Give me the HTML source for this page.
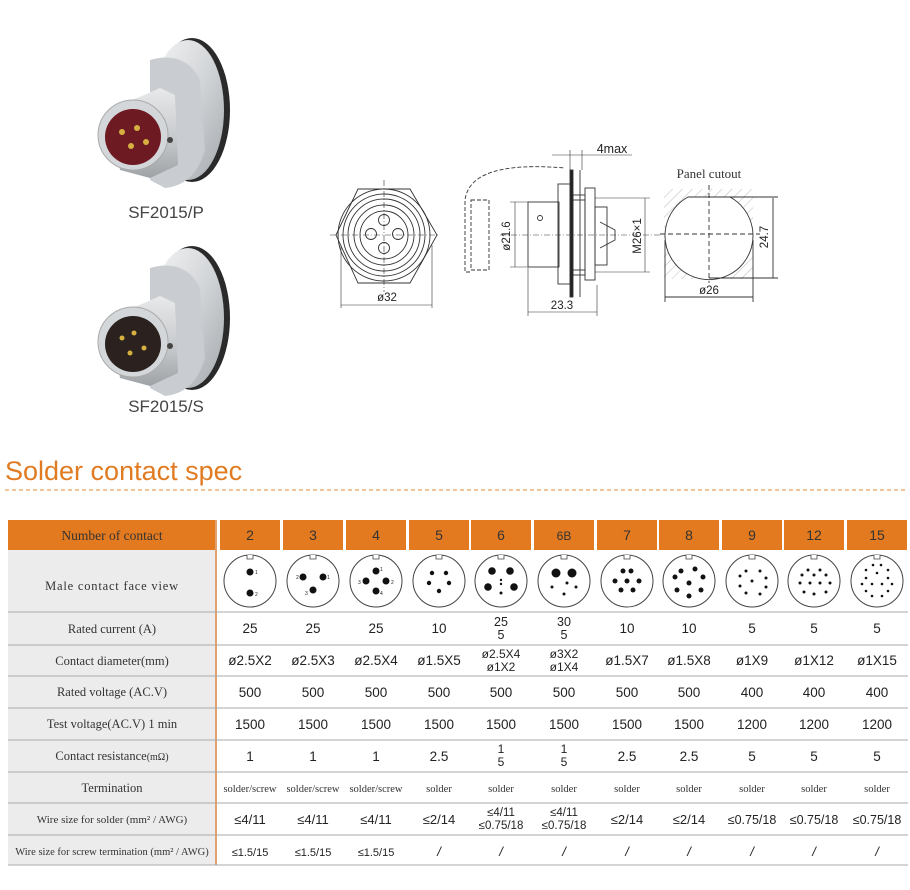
<!DOCTYPE html>
<html><head><meta charset="utf-8"><style>
html,body{margin:0;padding:0;background:#fff;}
svg{display:block;}
.l{font-family:"Liberation Serif",serif;font-size:12.5px;fill:#333;text-anchor:middle;}
.v{font-family:"Liberation Sans",sans-serif;font-size:13.5px;fill:#222;text-anchor:middle;}
.h{font-family:"Liberation Sans",sans-serif;font-size:14px;fill:#333;text-anchor:middle;}
.s{font-family:"Liberation Serif",serif;font-size:10.5px;fill:#333;text-anchor:middle;}
.d{font-family:"Liberation Sans",sans-serif;font-size:11.5px;fill:#222;text-anchor:middle;}
.dr{stroke:#333;stroke-width:0.9;fill:none;}
.pl{font-family:"Liberation Sans",sans-serif;font-size:5px;fill:#222;}
</style></head><body>
<svg width="910" height="890" viewBox="0 0 910 890" xmlns="http://www.w3.org/2000/svg">
<defs>
<linearGradient id="sil" x1="0" y1="0" x2="1" y2="1"><stop offset="0" stop-color="#f4f4f4"/><stop offset="0.5" stop-color="#d2d5d8"/><stop offset="1" stop-color="#a4a8ac"/></linearGradient>
<linearGradient id="bod" x1="0" y1="0" x2="0" y2="1"><stop offset="0" stop-color="#e8e9ea"/><stop offset="0.6" stop-color="#c4c7ca"/><stop offset="1" stop-color="#9ea2a6"/></linearGradient>
<pattern id="hat" width="7" height="7" patternUnits="userSpaceOnUse" patternTransform="rotate(45)"><line x1="0" y1="0" x2="0" y2="7" stroke="#bbb" stroke-width="1"/></pattern>
</defs>

<!-- products -->
<g>
<ellipse cx="192" cy="110" rx="38" ry="72" fill="#2a2a2a"/>
<ellipse cx="188" cy="110" rx="36" ry="70" fill="url(#sil)"/>
<path d="M150 60 Q185 50 200 80 L205 150 Q195 185 165 188 L150 180 Z" fill="#c9ccd0"/>
<path d="M110 110 L160 88 L175 95 L178 165 L150 178 L120 170 Z" fill="url(#bod)"/>
<circle cx="133" cy="135" r="35" fill="#d4d7da" stroke="#aaa"/>
<circle cx="133" cy="137" r="28" fill="#6e1a22"/>
<circle cx="122" cy="132" r="3" fill="#d8b040"/><circle cx="137" cy="128" r="3" fill="#d8b040"/><circle cx="146" cy="142" r="3" fill="#d8b040"/><circle cx="131" cy="146" r="3" fill="#d8b040"/>
<circle cx="170" cy="140" r="3" fill="#444"/>
<text x="166" y="218" style="font-family:'Liberation Sans',sans-serif;font-size:17px;fill:#444;text-anchor:middle">SF2015/P</text>

<ellipse cx="192" cy="318" rx="38" ry="72" fill="#2a2a2a"/>
<ellipse cx="188" cy="318" rx="36" ry="70" fill="url(#sil)"/>
<path d="M150 268 Q185 258 200 288 L205 358 Q195 393 165 396 L150 388 Z" fill="#c9ccd0"/>
<path d="M110 318 L160 296 L175 303 L178 373 L150 386 L120 378 Z" fill="url(#bod)"/>
<circle cx="133" cy="342" r="35" fill="#d4d7da" stroke="#aaa"/>
<circle cx="133" cy="344" r="28" fill="#2b2220"/>
<circle cx="122" cy="338" r="2.5" fill="#d8b040"/><circle cx="134" cy="333" r="2.5" fill="#d8b040"/><circle cx="144" cy="348" r="2.5" fill="#d8b040"/><circle cx="130" cy="353" r="2.5" fill="#d8b040"/>
<circle cx="170" cy="346" r="3" fill="#444"/>
<text x="166" y="412" style="font-family:'Liberation Sans',sans-serif;font-size:17px;fill:#444;text-anchor:middle">SF2015/S</text>
</g>

<!-- front view -->
<g class="dr">
<polygon points="336,235 358,189 410,189 437,235 410,283 358,283"/>
<circle cx="384" cy="235" r="46"/><circle cx="384" cy="235" r="41"/><circle cx="384" cy="235" r="36"/><circle cx="384" cy="235" r="30"/><circle cx="384" cy="235" r="24"/>
<circle cx="384" cy="220" r="5.5"/><circle cx="371" cy="234" r="5.5"/><circle cx="398" cy="234" r="5.5"/><circle cx="384" cy="248" r="5.5"/>
<line x1="330" y1="235" x2="440" y2="235" stroke-dasharray="6,2,1,2" stroke-width="0.6"/>
<line x1="384" y1="180" x2="384" y2="292" stroke-dasharray="6,2,1,2" stroke-width="0.6"/>
<line x1="341" y1="245" x2="341" y2="308" stroke-width="0.6"/><line x1="432" y1="245" x2="432" y2="308" stroke-width="0.6"/>
<line x1="341" y1="305" x2="432" y2="305" stroke-width="0.6"/>
</g>
<text x="387" y="301" class="d">ø32</text>

<!-- side view -->
<g class="dr">
<path d="M470 272 L465 272 L465 200 Q470 160 565 168" stroke-dasharray="4,2"/>
<rect x="471" y="200" width="18" height="70" stroke-dasharray="4,2"/>
<rect x="528" y="202" width="31" height="65"/>
<circle cx="540" cy="218" r="2.5"/>
<rect x="558" y="184" width="12" height="100"/>
<rect x="570" y="170" width="3" height="127" fill="#222"/>
<rect x="573" y="195" width="12" height="80"/>
<line x1="573" y1="200" x2="585" y2="200"/><line x1="573" y1="270" x2="585" y2="270"/>
<rect x="585" y="188" width="10" height="92"/>
<rect x="595" y="207" width="12" height="58"/>
<path d="M600 222 L615 230 L615 240 L600 248"/>
<line x1="580" y1="170" x2="580" y2="297"/>
<line x1="515" y1="202" x2="515" y2="267" stroke-width="0.6"/>
<line x1="510" y1="202" x2="528" y2="202" stroke-width="0.6"/><line x1="510" y1="267" x2="528" y2="267" stroke-width="0.6"/>
<line x1="645" y1="198" x2="645" y2="272" stroke-width="0.6"/>
<line x1="595" y1="198" x2="650" y2="198" stroke-width="0.6"/><line x1="595" y1="272" x2="650" y2="272" stroke-width="0.6"/>
<line x1="528" y1="268" x2="528" y2="316" stroke-width="0.6"/><line x1="597" y1="285" x2="597" y2="316" stroke-width="0.6"/>
<line x1="528" y1="312" x2="597" y2="312" stroke-width="0.6"/>
<line x1="570" y1="150" x2="570" y2="170" stroke-width="0.6"/><line x1="582" y1="150" x2="582" y2="170" stroke-width="0.6"/>
<line x1="552" y1="155" x2="632" y2="155" stroke-width="0.6"/>
<line x1="500" y1="235" x2="660" y2="235" stroke-dasharray="6,2,1,2" stroke-width="0.6"/>
</g>
<text x="612" y="153" class="d" style="font-size:12.5px">4max</text>
<text x="562" y="309" class="d">23.3</text>
<text transform="translate(510,236) rotate(-90)" class="d">ø21.6</text>
<text transform="translate(641,236) rotate(-90)" class="d">M26×1</text>

<!-- panel cutout -->
<text x="709" y="178" style="font-family:'Liberation Serif',serif;font-size:13px;fill:#333;text-anchor:middle">Panel cutout</text>
<rect x="664" y="189" width="89" height="90" fill="url(#hat)"/>
<path d="M688 197 L730 197 A44 44 0 1 1 688 197 Z" fill="#fff" stroke="#333" stroke-width="0.9"/>
<g class="dr" stroke-width="0.6">
<line x1="660" y1="234" x2="760" y2="234" stroke-dasharray="5,3"/>
<line x1="709" y1="185" x2="709" y2="283" stroke-dasharray="5,3"/>
<line x1="773" y1="198" x2="773" y2="278"/><line x1="730" y1="197" x2="778" y2="197"/><line x1="709" y1="278" x2="778" y2="278"/>
<line x1="665" y1="240" x2="665" y2="302"/><line x1="753" y1="240" x2="753" y2="302"/><line x1="665" y1="297" x2="753" y2="297"/>
</g>
<text transform="translate(768,237) rotate(-90)" class="d">24.7</text>
<text x="709" y="294" class="d">ø26</text>

<!-- title -->
<text x="5" y="480" style="font-family:'Liberation Sans',sans-serif;font-size:27px;fill:#e07b22">Solder contact spec</text>
<line x1="5" y1="490" x2="907" y2="490" stroke="#e58a35" stroke-width="1" stroke-dasharray="4,3"/>

<!-- table -->
<rect x="8" y="520" width="208" height="30" fill="#e47a1f"/>
<rect x="8" y="550" width="208" height="315" fill="#ececec"/>
<line x1="216" y1="520" x2="216" y2="865" stroke="#e0a070" stroke-width="2"/>
<g fill="#e47a1f">
<rect x="220" y="520" width="60" height="30"/><rect x="283" y="520" width="60" height="30"/><rect x="346" y="520" width="60" height="30"/><rect x="409" y="520" width="60" height="30"/><rect x="471" y="520" width="60" height="30"/><rect x="534" y="520" width="60" height="30"/><rect x="597" y="520" width="60" height="30"/><rect x="659" y="520" width="60" height="30"/><rect x="722" y="520" width="60" height="30"/><rect x="784" y="520" width="60" height="30"/><rect x="847" y="520" width="60" height="30"/>
</g>
<g stroke="#aaa" stroke-width="1">
<line x1="8" y1="612" x2="908" y2="612"/><line x1="8" y1="645" x2="908" y2="645"/><line x1="8" y1="676" x2="908" y2="676"/><line x1="8" y1="708" x2="908" y2="708"/><line x1="8" y1="740" x2="908" y2="740"/><line x1="8" y1="772" x2="908" y2="772"/><line x1="8" y1="803" x2="908" y2="803"/><line x1="8" y1="835" x2="908" y2="835"/><line x1="8" y1="865" x2="908" y2="865"/>
</g>
<text x="112" y="540" class="l" style="font-size:13.5px">Number of contact</text>
<g class="h">
<text x="250" y="540">2</text><text x="313" y="540">3</text><text x="376" y="540">4</text><text x="439" y="540">5</text><text x="501" y="540">6</text><text x="564" y="540" style="font-size:12px">6B</text><text x="627" y="540">7</text><text x="689" y="540">8</text><text x="752" y="540">9</text><text x="814" y="540">12</text><text x="877" y="540">15</text>
</g>
<text x="112" y="590" class="l" style="letter-spacing:0.8px">Male contact face view</text>
<text x="112" y="633" class="l">Rated current (A)</text>
<text x="112" y="665" class="l">Contact diameter(mm)</text>
<text x="112" y="696" class="l">Rated voltage (AC.V)</text>
<text x="112" y="728" class="l">Test voltage(AC.V) 1 min</text>
<text x="112" y="760" class="l">Contact resistance<tspan style="font-size:10px">(mΩ)</tspan></text>
<text x="112" y="792" class="l">Termination</text>
<text x="112" y="823" class="l" style="font-size:11px">Wire size for solder (mm² / AWG)</text>
<text x="112" y="855" class="l" style="font-size:10.5px">Wire size for screw termination (mm² / AWG)</text>

<!-- face views -->
<g fill="#fff" stroke="#444" stroke-width="1">
<circle cx="250" cy="581" r="26"/><circle cx="313" cy="581" r="26"/><circle cx="376" cy="581" r="26"/><circle cx="439" cy="581" r="26"/><circle cx="501" cy="581" r="26"/><circle cx="564" cy="581" r="26"/><circle cx="627" cy="581" r="26"/><circle cx="689" cy="581" r="26"/><circle cx="752" cy="581" r="26"/><circle cx="814" cy="581" r="26"/><circle cx="877" cy="581" r="26"/>
</g>
<g fill="#fff" stroke="#444" stroke-width="0.8">
<path d="M247 555 v4 h6 v-4"/><path d="M310 555 v4 h6 v-4"/><path d="M373 555 v4 h6 v-4"/><path d="M436 555 v4 h6 v-4"/><path d="M498 555 v4 h6 v-4"/><path d="M561 555 v4 h6 v-4"/><path d="M624 555 v4 h6 v-4"/><path d="M686 555 v4 h6 v-4"/><path d="M749 555 v4 h6 v-4"/><path d="M811 555 v4 h6 v-4"/><path d="M874 555 v4 h6 v-4"/>
</g>
<g fill="#111">
<circle cx="250" cy="572" r="3.5"/><circle cx="250" cy="593" r="3.5"/>
<circle cx="303" cy="577" r="3.5"/><circle cx="323" cy="577" r="3.5"/><circle cx="313" cy="590" r="3.5"/>
<circle cx="376" cy="571" r="3.5"/><circle cx="366" cy="581" r="3.5"/><circle cx="386" cy="581" r="3.5"/><circle cx="376" cy="591" r="3.5"/>
<circle cx="432" cy="573" r="2.2"/><circle cx="446" cy="573" r="2.2"/><circle cx="429" cy="583" r="2.2"/><circle cx="449" cy="583" r="2.2"/><circle cx="439" cy="591" r="2.2"/>
<circle cx="492" cy="571" r="3.8"/><circle cx="510" cy="571" r="3.8"/><circle cx="488" cy="587" r="3.8"/><circle cx="514" cy="587" r="3.8"/><circle cx="501" cy="580" r="1.2"/><circle cx="501" cy="584" r="1.2"/><circle cx="501" cy="593" r="1.5"/>
<circle cx="556" cy="573" r="4.5"/><circle cx="572" cy="573" r="4.5"/><circle cx="552" cy="587" r="1.5"/><circle cx="567" cy="583" r="1.5"/><circle cx="576" cy="587" r="1.5"/><circle cx="564" cy="594" r="1.5"/>
<circle cx="623" cy="571" r="2.5"/><circle cx="631" cy="571" r="2.5"/><circle cx="615" cy="581" r="2.5"/><circle cx="627" cy="581" r="2.5"/><circle cx="639" cy="581" r="2.5"/><circle cx="621" cy="590" r="2.5"/><circle cx="633" cy="590" r="2.5"/>
<circle cx="681" cy="571" r="2.5"/><circle cx="695" cy="569" r="2.5"/><circle cx="703" cy="577" r="2.5"/><circle cx="689" cy="583" r="2.5"/><circle cx="675" cy="577" r="2.5"/><circle cx="677" cy="590" r="2.5"/><circle cx="701" cy="590" r="2.5"/><circle cx="689" cy="596" r="2.5"/>
<circle cx="746" cy="571" r="1.5"/><circle cx="760" cy="571" r="1.5"/><circle cx="740" cy="576" r="1.5"/><circle cx="766" cy="578" r="1.5"/><circle cx="752" cy="581" r="1.5"/><circle cx="740" cy="586" r="1.5"/><circle cx="766" cy="587" r="1.5"/><circle cx="746" cy="593" r="1.5"/><circle cx="760" cy="594" r="1.5"/>
<circle cx="808" cy="570" r="1.5"/><circle cx="820" cy="570" r="1.5"/><circle cx="802" cy="575" r="1.5"/><circle cx="814" cy="575" r="1.5"/><circle cx="826" cy="575" r="1.5"/><circle cx="800" cy="583" r="1.5"/><circle cx="810" cy="583" r="1.5"/><circle cx="820" cy="583" r="1.5"/><circle cx="830" cy="583" r="1.5"/><circle cx="804" cy="592" r="1.5"/><circle cx="814" cy="594" r="1.5"/><circle cx="826" cy="592" r="1.5"/>
<circle cx="873" cy="565" r="1.3"/><circle cx="881" cy="565" r="1.3"/><circle cx="866" cy="570" r="1.3"/><circle cx="888" cy="570" r="1.3"/><circle cx="877" cy="573" r="1.3"/><circle cx="866" cy="578" r="1.3"/><circle cx="888" cy="578" r="1.3"/><circle cx="862" cy="584" r="1.3"/><circle cx="872" cy="584" r="1.3"/><circle cx="882" cy="584" r="1.3"/><circle cx="892" cy="584" r="1.3"/><circle cx="866" cy="591" r="1.3"/><circle cx="888" cy="591" r="1.3"/><circle cx="872" cy="596" r="1.3"/><circle cx="882" cy="596" r="1.3"/>
</g>
<g class="pl">
<text x="255" y="574">1</text><text x="255" y="596">2</text>
<text x="296" y="579">2</text><text x="327" y="579">1</text><text x="305" y="595">3</text>
<text x="380" y="571">1</text><text x="358" y="584">3</text><text x="391" y="584">2</text><text x="380" y="595">4</text>
</g>

<!-- values -->
<g class="v">
<text x="250" y="633">25</text><text x="313" y="633">25</text><text x="376" y="633">25</text><text x="439" y="633">10</text><text x="501" y="626" style="font-size:12.5px">25</text><text x="501" y="639" style="font-size:12.5px">5</text><text x="564" y="626" style="font-size:12.5px">30</text><text x="564" y="639" style="font-size:12.5px">5</text><text x="627" y="633">10</text><text x="689" y="633">10</text><text x="752" y="633">5</text><text x="814" y="633">5</text><text x="877" y="633">5</text>
<text x="250" y="665">ø2.5X2</text><text x="313" y="665">ø2.5X3</text><text x="376" y="665">ø2.5X4</text><text x="439" y="665">ø1.5X5</text><text x="501" y="658" style="font-size:12px">ø2.5X4</text><text x="501" y="671" style="font-size:12px">ø1X2</text><text x="564" y="658" style="font-size:12px">ø3X2</text><text x="564" y="671" style="font-size:12px">ø1X4</text><text x="627" y="665">ø1.5X7</text><text x="689" y="665">ø1.5X8</text><text x="752" y="665">ø1X9</text><text x="814" y="665">ø1X12</text><text x="877" y="665">ø1X15</text>
<text x="250" y="697">500</text><text x="313" y="697">500</text><text x="376" y="697">500</text><text x="439" y="697">500</text><text x="501" y="697">500</text><text x="564" y="697">500</text><text x="627" y="697">500</text><text x="689" y="697">500</text><text x="752" y="697">400</text><text x="814" y="697">400</text><text x="877" y="697">400</text>
<text x="250" y="729">1500</text><text x="313" y="729">1500</text><text x="376" y="729">1500</text><text x="439" y="729">1500</text><text x="501" y="729">1500</text><text x="564" y="729">1500</text><text x="627" y="729">1500</text><text x="689" y="729">1500</text><text x="752" y="729">1200</text><text x="814" y="729">1200</text><text x="877" y="729">1200</text>
<text x="250" y="761">1</text><text x="313" y="761">1</text><text x="376" y="761">1</text><text x="439" y="761">2.5</text><text x="501" y="753" style="font-size:12px">1</text><text x="501" y="766" style="font-size:12px">5</text><text x="564" y="753" style="font-size:12px">1</text><text x="564" y="766" style="font-size:12px">5</text><text x="627" y="761">2.5</text><text x="689" y="761">2.5</text><text x="752" y="761">5</text><text x="814" y="761">5</text><text x="877" y="761">5</text>
</g>
<g class="s">
<text x="250" y="792">solder/screw</text><text x="313" y="792">solder/screw</text><text x="376" y="792">solder/screw</text><text x="439" y="792">solder</text><text x="501" y="792">solder</text><text x="564" y="792">solder</text><text x="627" y="792">solder</text><text x="689" y="792">solder</text><text x="752" y="792">solder</text><text x="814" y="792">solder</text><text x="877" y="792">solder</text>
</g>
<g class="v" style="font-size:13px">
<text x="250" y="824">≤4/11</text><text x="313" y="824">≤4/11</text><text x="376" y="824">≤4/11</text><text x="439" y="824">≤2/14</text>
<text x="501" y="816" style="font-size:11.5px">≤4/11</text><text x="501" y="829" style="font-size:11.5px">≤0.75/18</text>
<text x="564" y="816" style="font-size:11.5px">≤4/11</text><text x="564" y="829" style="font-size:11.5px">≤0.75/18</text>
<text x="627" y="824">≤2/14</text><text x="689" y="824">≤2/14</text>
<text x="752" y="824" style="font-size:12.5px">≤0.75/18</text><text x="814" y="824" style="font-size:12.5px">≤0.75/18</text><text x="877" y="824" style="font-size:12.5px">≤0.75/18</text>
<text x="250" y="856" style="font-size:11px">≤1.5/15</text><text x="313" y="856" style="font-size:11px">≤1.5/15</text><text x="376" y="856" style="font-size:11px">≤1.5/15</text>
<text x="439" y="856" style="font-style:italic">/</text><text x="501" y="856" style="font-style:italic">/</text><text x="564" y="856" style="font-style:italic">/</text><text x="627" y="856" style="font-style:italic">/</text><text x="689" y="856" style="font-style:italic">/</text><text x="752" y="856" style="font-style:italic">/</text><text x="814" y="856" style="font-style:italic">/</text><text x="877" y="856" style="font-style:italic">/</text>
</g>
</svg>
</body></html>
